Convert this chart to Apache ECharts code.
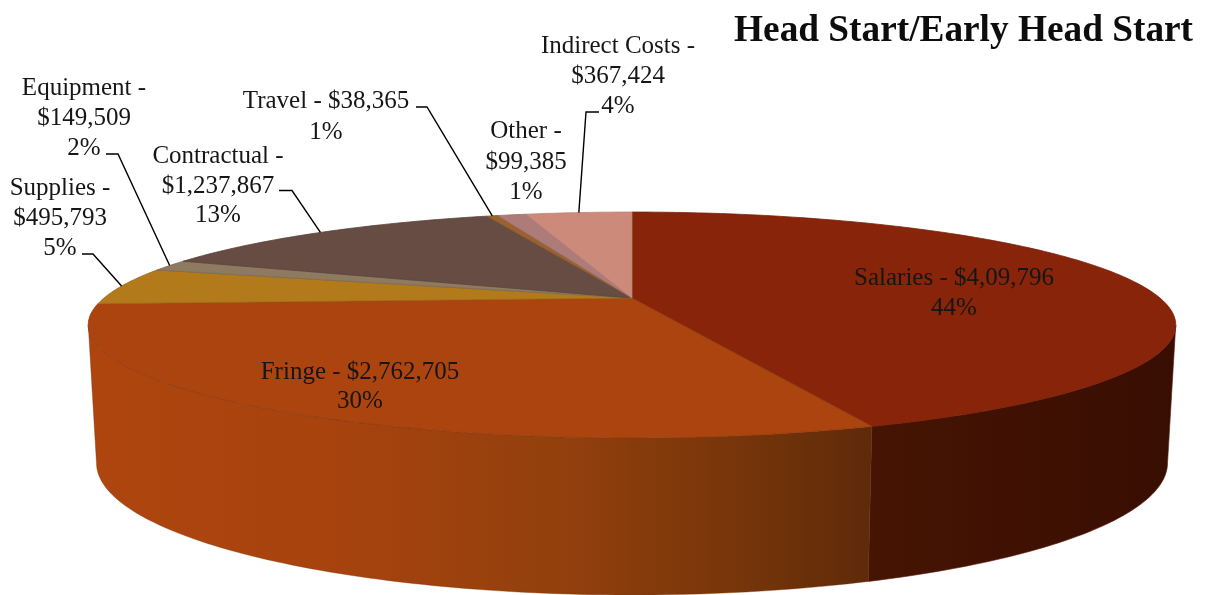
<!DOCTYPE html>
<html>
<head>
<meta charset="utf-8">
<title>Head Start/Early Head Start</title>
<script src="https://cdn.jsdelivr.net/npm/echarts@6/dist/echarts.min.js"></script>
<style>
  html, body { margin: 0; padding: 0; background: #fff; }
  #main { width: 1206px; height: 595px; }
</style>
</head>
<body>
<div id="main"></div>
<script>
// values, clockwise from 12 o'clock
const categories = ['Salaries', 'Fringe', 'Supplies', 'Equipment', 'Contractual', 'Travel', 'Other', 'Indirect Costs'];
const amounts = [4090796, 2762705, 495793, 149509, 1237867, 38365, 99385, 367424];

// label text as printed in the picture (the salaries figure is misprinted there)
const labelLines = [
    ['Salaries - $4,09,796', '44%'],
    ['Fringe - $2,762,705', '30%'],
    ['Supplies -', '$495,793', '5%'],
    ['Equipment -', '$149,509', '2%'],
    ['Contractual -', '$1,237,867', '13%'],
    ['Travel - $38,365', '1%'],
    ['Other -', '$99,385', '1%'],
    ['Indirect Costs -', '$367,424', '4%']
];

const topColors = ['#87240a', '#ab440f', '#b27a1b', '#8d7a60', '#664c42', '#9a6230', '#ae7c78', '#cc8a7b'];
const edgeColors = ['#7a2108', '#8f3a0e', '#9c6a18', '#7a6a54', '#5a4339', '#85542a', '#9a6d6a', '#c08072'];

// label placement: centre x, y of each text line
const labelX = [954, 360, 60, 84, 218, 326, 526, 618];
const labelY = [[278, 308], [372, 401], [188, 218, 248], [88, 118, 148], [156, 186, 215], [101, 132], [131, 162, 192], [46, 76, 106]];
// leader line: start and elbow, the end is found on the rim of the slice
const leaders = [null, null, [[82, 254], [93, 254]], [[106, 154], [118, 154]], [[279, 190.5], [292, 190.5]], [[416, 107], [427, 107]], null, [[599, 112], [586, 112]]];

const total = amounts.reduce((a, b) => a + b, 0);
const fontFamily = '"Liberation Serif", serif';

// the tilted disc: unit circle pushed through a perspective map
const pieX = 632;
const persp = 0.239;
const topFace = { rx: 528, ry: 106.5, y: 298 };
const bottomFace = { rx: 520, ry: 124.5, y: 431.4 };
const polarX = 300, polarY = 300, polarR = 200;

function project(pt, face) {
    const u = (pt[0] - polarX) / polarR;
    const v = (pt[1] - polarY) / polarR;
    const w = 1 - persp * v;
    return [pieX + face.rx * u / w, face.y + face.ry * v / w];
}

// the side wall shows between the two points where the rim turns away
const frontStart = total * Math.acos(-persp) / (2 * Math.PI);
const frontEnd = total - frontStart;

const wallFills = [
    { type: 'linear', x: 868, y: 0, x2: 1176, y2: 0, global: true, colorStops: [
        { offset: 0, color: '#461403' }, { offset: 1, color: '#380e02' }] },
    { type: 'linear', x: 90, y: 0, x2: 872, y2: 0, global: true, colorStops: [
        { offset: 0, color: '#ae450f' }, { offset: 0.3, color: '#a8430e' },
        { offset: 0.6, color: '#93400d' }, { offset: 0.85, color: '#743409' }, { offset: 1, color: '#5e2a0a' }] }
];

let running = 0;
const sliceData = amounts.map((v, i) => {
    const row = [running, running + v, i];
    running += v;
    return row;
});

function arc(api, from, to, face) {
    const n = Math.max(2, Math.ceil((to - from) / total * 360));
    const pts = [];
    for (let i = 0; i <= n; i++) {
        pts.push(project(api.coord([1, from + (to - from) * i / n]), face));
    }
    return pts;
}

function renderSlice(params, api) {
    const from = api.value(0), to = api.value(1), idx = api.value(2);
    const children = [];

    const wallFrom = Math.max(from, frontStart), wallTo = Math.min(to, frontEnd);
    if (wallTo > wallFrom) {
        const upper = arc(api, wallFrom, wallTo, topFace);
        const lower = arc(api, wallFrom, wallTo, bottomFace).reverse();
        children.push({
            type: 'polygon',
            shape: { points: upper.concat(lower) },
            style: { fill: wallFills[idx], stroke: idx === 0 ? '#5a1a06' : 'rgba(120,50,10,0.6)', lineWidth: 0.6 }
        });
    }

    const apex = project(api.coord([0, from]), topFace);
    children.push({
        type: 'polygon',
        shape: { points: [apex].concat(arc(api, from, to, topFace)) },
        style: { fill: topColors[idx], stroke: edgeColors[idx], lineWidth: 0.8 }
    });

    if (leaders[idx]) {
        const rim = project(api.coord([1, (from + to) / 2]), topFace);
        children.push({
            type: 'polyline',
            z2: 5,
            shape: { points: leaders[idx].concat([rim]) },
            style: { fill: null, stroke: '#000', lineWidth: 1.4 }
        });
    }

    labelLines[idx].forEach((line, j) => {
        children.push({
            type: 'text',
            z2: 10,
            style: {
                text: line, x: labelX[idx], y: labelY[idx][j],
                textAlign: 'center', textVerticalAlign: 'middle',
                fontFamily: fontFamily, fontSize: 25, fill: '#161616'
            }
        });
    });

    return { type: 'group', children: children };
}

const myChart = echarts.init(document.getElementById('main'), null, { renderer: 'canvas' });
myChart.setOption({
    animation: false,
    backgroundColor: '#fff',
    title: {
        text: 'Head Start/Early Head Start',
        right: 8,
        top: 8,
        textStyle: { fontFamily: fontFamily, fontSize: 37.3, fontWeight: 'bold', color: '#0d0d0d' }
    },
    // hidden polar system supplies the value -> angle scale
    polar: { center: [polarX, polarY], radius: polarR },
    angleAxis: { type: 'value', min: 0, max: total, startAngle: 90, show: false },
    radiusAxis: { type: 'value', min: 0, max: 1, show: false },
    series: [{
        type: 'custom',
        coordinateSystem: 'polar',
        silent: true,
        clip: false,
        renderItem: renderSlice,
        encode: { radius: 2, angle: 0 },
        data: sliceData
    }]
});
</script>
</body>
</html>
